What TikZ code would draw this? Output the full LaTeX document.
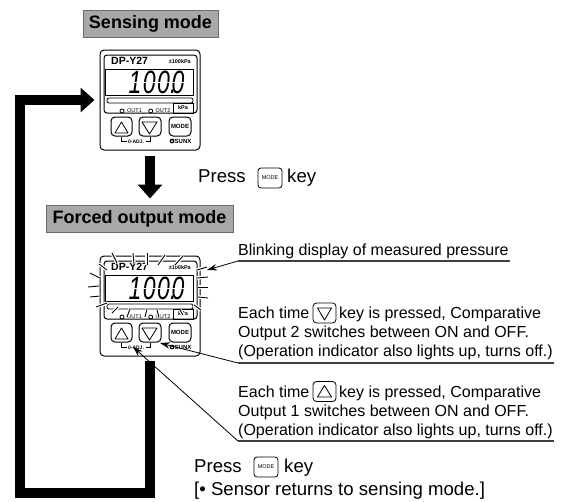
\documentclass[tikz,border=0pt]{standalone}
\usepackage{fontspec}
\setmainfont{Liberation Sans}
\usetikzlibrary{arrows.meta,calc}
\definecolor{titlegray}{gray}{0.66}
\definecolor{titleedge}{gray}{0.42}
\newcommand{\fs}[1]{\fontsize{#1}{#1}\selectfont}
\tikzset{
  x=1pt,y=-1pt,
  outline/.style={draw=black,line width=1pt,rounded corners=#1},
  outline/.default=3pt,
  thin line/.style={draw=black,line width=.8pt},
  bigarrow/.style={line width=10pt,black,line join=miter,-{Triangle[length=14pt,width=24pt]}},
  titlebox/.style={fill=titlegray,draw=titleedge,line width=1pt,inner sep=0pt,font=\fs{18}\bfseries},
  body/.style={anchor=base west,inner sep=0pt,font=\fs{16}},
  press/.style={anchor=base west,inner sep=0pt,font=\fs{18.6}},
  leader/.style={draw=black,line width=.8pt,-{Stealth[length=10pt,width=6.5pt]}},
  rule/.style={draw=black!75,line width=1.1pt},
  ray/.style={black,line width=.9pt,preaction={draw=white,line width=3.5pt}},
  device/.pic={
    \node[outline=4pt,minimum width=100pt,minimum height=100pt,inner sep=0pt] (-frame) at (50,50) {};
    \draw[outline=3pt] (4,5) rectangle (97,63);
    \draw[thin line] (5,19) rectangle (93,45);
    \draw[thin line,rounded corners=2pt] (7,48) rectangle (93,53);
    \draw[thin line] (73,53) rectangle (93,63);
    \node[inner sep=0pt,font=\fs{10.5}\bfseries,anchor=base west] (-model) at (11,14) {DP-Y27};
    \node[inner sep=0pt,font=\fs{5.5}\bfseries,anchor=base east] (-range) at (91,13.5) {±100kPa};
    \node[inner sep=0pt,font=\fs{23}\itshape,yscale=1.4,anchor=base] (-lcd) at (56.5,43.5) {1\hspace{1.5pt}0\hspace{1.5pt}0\rlap{.}\hspace{1.5pt}0};
    \draw[white,line width=1pt] (25,32) -- (90,32);
    \draw[thin line] (22,61) circle (2);
    \draw[thin line] (50.7,61) circle (2);
    \node[inner sep=0pt,font=\fs{5.5}] (-out1) at (34.5,61) {OUT1};
    \node[inner sep=0pt,font=\fs{5.5}] (-out2) at (63,61) {OUT2};
    \node[inner sep=0pt,font=\fs{5.5}\bfseries] (-unit) at (83,58) {kPa};
    \draw[outline=4pt] (11,67) rectangle (32,86);
    \draw[outline=4pt] (39,67) rectangle (61,86);
    \draw[outline=4pt] (69,67) rectangle (91,86);
    \draw[thin line,line join=round] (15,83) -- (28,83) -- (21.5,72) -- cycle;
    \draw[thin line,line join=round] (42,72) -- (57,72) -- (49.5,84) -- cycle;
    \node[inner sep=0pt,font=\fs{6}\bfseries] (-mode) at (80,76.5) {MODE};
    \draw[thin line] (21.7,87) -- (21.7,91.5) -- (26.7,91.5);
    \draw[thin line] (46,91.5) -- (50.7,91.5) -- (50.7,87);
    \node[inner sep=0pt,font=\fs{5}\bfseries] (-adj) at (36,92) {0-ADJ.};
    \fill (72,91) circle (2.4);
    \fill[white] (72,91) circle (1);
    \node[inner sep=0pt,font=\fs{6}\bfseries,anchor=west] (-brand) at (74.5,91) {SUNX};
  },
  modekey/.style={draw=black,line width=.8pt,rounded corners=3pt,inner sep=0pt,minimum width=24pt,minimum height=20pt,font=\fs{5.5}},
  arrowkey/.style={draw=black,line width=.8pt,rounded corners=3.5pt,inner sep=0pt,minimum width=23pt,minimum height=20pt},
}
\begin{document}
\begin{tikzpicture}
\useasboundingbox (0,0) rectangle (562,501);
% titles
\node[titlebox,minimum width=135pt,minimum height=27pt] (sensing) at (150.5,23.5) {Sensing mode};
\node[titlebox,minimum width=187pt,minimum height=27pt] (forced) at (139.5,218.5) {Forced output mode};
% annotation texts
\node[body] (blink) at (238,255) {Blinking display of measured pressure};
\coordinate (blinkend) at (510,261);
\coordinate (blinkstart) at (238,261);
\coordinate (blinktip) at (207,270);
\node[body] (d1) at (238,318) {Each time};
\node[arrowkey] (keydown) at (324.5,313) {};
\draw[thin line,line join=round] ($(keydown)+(-7,-5)$) -- ($(keydown)+(7,-5)$) -- ($(keydown)+(0,7)$) -- cycle;
\node[body] (d2) at (339,318) {key is pressed, Comparative};
\node[body] (d3) at (238,337) {Output 2 switches between ON and OFF.};
\node[body] (d4) at (238,356) {(Operation indicator also lights up, turns off.)};
\coordinate (downstart) at (238,363);
\coordinate (downend) at (554,363);
\coordinate (downtip) at (160,343);
\node[body] (u1) at (238,397) {Each time};
\node[arrowkey] (keyup) at (324.5,391.5) {};
\draw[thin line,line join=round] ($(keyup)+(-7,5.5)$) -- ($(keyup)+(7,5.5)$) -- ($(keyup)+(0,-6)$) -- cycle;
\node[body] (u2) at (339,397) {key is pressed, Comparative};
\node[body] (u3) at (238,416) {Output 1 switches between ON and OFF.};
\node[body] (u4) at (238,435) {(Operation indicator also lights up, turns off.)};
\coordinate (upstart) at (238,441);
\coordinate (upend) at (554,441);
\coordinate (uptip) at (133,347);
% devices
\pic (sdev) at (100,50) {device};
\pic (fdev) at (100,256) {device};
% blinking rays
\foreach \a/\b/\c/\d in {99/264/107/270,112/253/117/263,133/253/134/264,147/253/147/265,165/255/158/265,183/256/175/265,
  197/270/207/267,197/278/208/277,198/287/208/287,198/297/208/298,194/305/201/310,
  90/273/100/278,88/287/99/286,90/297/100/296,96/307/107/303,
  112/313/118/307,127/317/130/309,145/317/147/309,159/317/157/310,180/310/183/315}
  \draw[ray] (\a,\b) -- (\c,\d);
% leader lines
\draw[rule] (blinkstart) -- (blinkend);
\draw[leader] (blinkstart) -- (blinktip);
\draw[rule] (downstart) -- (downend);
\draw[leader] (downstart) -- (downtip);
\draw[rule] (upstart) -- (upend);
\draw[leader] (upstart) -- (uptip);
% big arrows
\draw[bigarrow,shorten <=5pt,shorten >=6pt] (sdev-frame.south) -- (sdev-frame.south |- forced.north);
\coordinate (loopa) at (150,493);
\coordinate (loopb) at (20,493);
\coordinate (loopc) at (20,100);
\draw[bigarrow,shorten >=5pt] ([yshift=-4pt]fdev-frame.south) -- (loopa) -- (loopb) -- (loopc) -- (sdev-frame.west);
% press lines
\node[press] (p1) at (198,182) {Press};
\node[modekey] (key1) at (270,178) {MODE};
\node[press] (p1k) at (287,182) {key};
\node[press] (p2) at (194,472) {Press};
\node[modekey] (key2) at (266,467) {MODE};
\node[press] (p2k) at (284,472) {key};
\node[press] (p3) at (194,495) {[• Sensor returns to sensing mode.]};
\end{tikzpicture}
\end{document}
